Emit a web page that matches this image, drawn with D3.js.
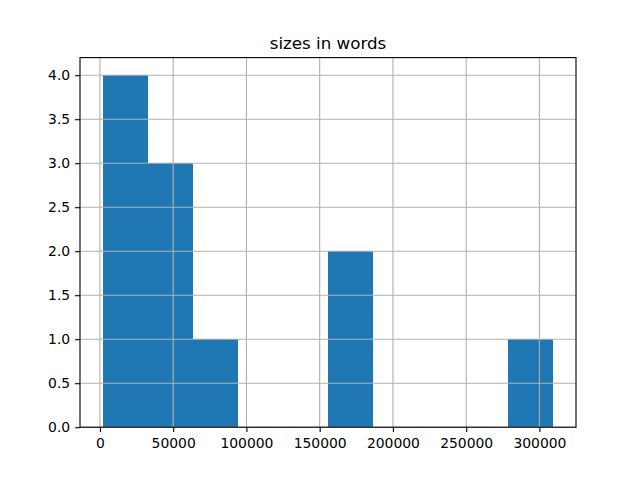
<!DOCTYPE html>
<html>
<head>
<meta charset="utf-8">
<script src="https://cdn.jsdelivr.net/npm/d3@7"></script>
<style>
  body { margin: 0; background: #fff; }
  text { font-family: "DejaVu Sans", sans-serif; fill: #000; }
</style>
</head>
<body>
<div id="chart"></div>
<script>
// histogram bins (edges) and counts
var binEdges = [1780, 32560, 63340, 94120, 124900, 155680, 186460, 217240, 248020, 278800, 309580];
var binCounts = [4, 3, 1, 0, 0, 2, 0, 0, 0, 1];
var xTicks = [0, 50000, 100000, 150000, 200000, 250000, 300000];
var yTicks = [0, 0.5, 1.0, 1.5, 2.0, 2.5, 3.0, 3.5, 4.0];
var title = "sizes in words";

var margin = { top: 57.6, right: 64, bottom: 52.8, left: 80 },
    width = 640 - margin.left - margin.right,
    height = 480 - margin.top - margin.bottom;

var svg = d3.select("#chart")
    .append("svg")
    .attr("width", 640)
    .attr("height", 480)
    .style("background", "#fff");

var g = svg.append("g")
    .attr("transform", "translate(" + margin.left + "," + margin.top + ")");

var lo = binEdges[0], hi = binEdges[binEdges.length - 1], pad = (hi - lo) * 0.05;
var x = d3.scaleLinear()
    .domain([lo - pad, hi + pad])
    .range([0, width]);

var y = d3.scaleLinear()
    .domain([0, d3.max(binCounts) * 1.05])
    .range([height, 0]);

var bins = binCounts.map(function (c, i) {
    return { x0: binEdges[i], x1: binEdges[i + 1], count: c };
});

// bars
g.append("g")
    .selectAll("rect")
    .data(bins.filter(function (d) { return d.count > 0; }))
    .enter()
    .append("rect")
    .attr("x", function (d) { return x(d.x0); })
    .attr("width", function (d) { return x(d.x1) - x(d.x0); })
    .attr("y", function (d) { return y(d.count); })
    .attr("height", function (d) { return y(0) - y(d.count); })
    .attr("shape-rendering", "crispEdges")
    .style("fill", "#1f77b4");

// grid on top of bars
var grid = g.append("g").style("stroke", "#b0b0b0").style("stroke-width", 1.1);
grid.selectAll(".gx")
    .data(xTicks)
    .enter()
    .append("line")
    .attr("x1", function (d) { return x(d); })
    .attr("x2", function (d) { return x(d); })
    .attr("y1", 0)
    .attr("y2", height);
grid.selectAll(".gy")
    .data(yTicks)
    .enter()
    .append("line")
    .attr("x1", 0)
    .attr("x2", width)
    .attr("y1", function (d) { return y(d); })
    .attr("y2", function (d) { return y(d); });

// axes
var xAxis = g.append("g")
    .attr("transform", "translate(0," + height + ")")
    .call(d3.axisBottom(x).tickValues(xTicks).tickFormat(d3.format("d")).tickSizeInner(4.9).tickSizeOuter(0).tickPadding(4.9));

var yAxis = g.append("g")
    .call(d3.axisLeft(y).tickValues(yTicks).tickFormat(d3.format(".1f")).tickSizeInner(4.9).tickSizeOuter(0).tickPadding(4.9));

[xAxis, yAxis].forEach(function (a) {
    a.select(".domain").remove();
    a.selectAll("line").style("stroke", "#000").style("stroke-width", 1.1);
    a.selectAll("text").style("font-size", "13.9px").style("font-family", "DejaVu Sans");
});
xAxis.selectAll("text").attr("dy", "0.76em");

// spines
g.append("rect")
    .attr("x", 0)
    .attr("y", 0)
    .attr("width", width)
    .attr("height", height)
    .style("fill", "none")
    .style("stroke", "#000")
    .style("stroke-width", 1.1);

svg.append("text")
    .attr("x", margin.left + width / 2)
    .attr("y", margin.top - 8.3)
    .attr("text-anchor", "middle")
    .style("font-size", "16.7px")
    .text(title);
</script>
</body>
</html>
